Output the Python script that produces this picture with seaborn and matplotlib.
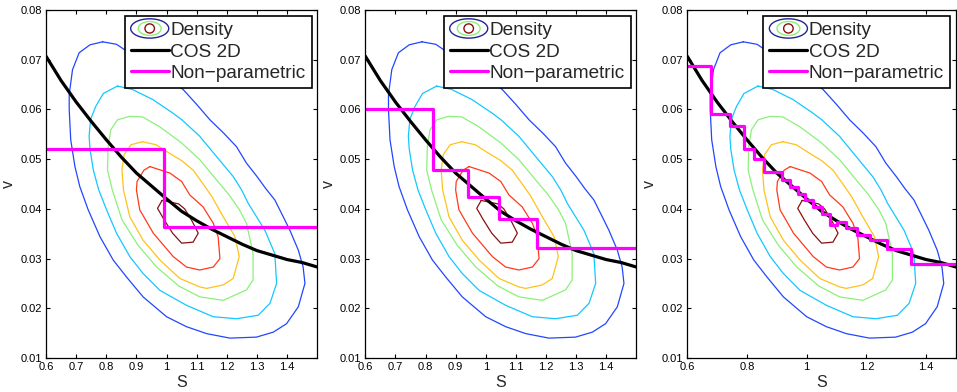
import matplotlib
matplotlib.use("Agg")
import matplotlib.pyplot as plt
import seaborn as sns
from matplotlib.legend_handler import HandlerBase
from matplotlib.patches import Ellipse
from matplotlib.lines import Line2D
from matplotlib.ticker import FuncFormatter

sns.set_style("ticks")
plt.rcParams["font.family"] = ["Liberation Sans", "DejaVu Sans"]

# ---------- Density contours as (S, v) ---------- #
contour_blue = [(0.788, 0.0736), (0.834, 0.0731), (0.856, 0.0722), (0.900, 0.0702), (0.960, 0.0680),
                (1.010, 0.0660), (1.055, 0.0640), (1.100, 0.0610), (1.144, 0.0579), (1.190, 0.0552),
                (1.232, 0.0525), (1.265, 0.0492), (1.300, 0.0465), (1.330, 0.0440), (1.359, 0.0418),
                (1.387, 0.0384), (1.409, 0.0357), (1.437, 0.0317), (1.453, 0.0283), (1.459, 0.0250),
                (1.437, 0.0203), (1.398, 0.0169), (1.354, 0.0152), (1.298, 0.0142), (1.210, 0.0140),
                (1.133, 0.0149), (1.066, 0.0163), (1.000, 0.0183), (0.922, 0.0223), (0.867, 0.0263),
                (0.823, 0.0297), (0.779, 0.0344), (0.740, 0.0398), (0.712, 0.0445), (0.696, 0.0485),
                (0.682, 0.0539), (0.677, 0.0600), (0.677, 0.0630), (0.688, 0.0680), (0.710, 0.0714),
                (0.746, 0.0730), (0.788, 0.0736)]
contour_cyan = [(0.837, 0.0647), (0.887, 0.0640), (0.954, 0.0620), (1.020, 0.0593), (1.051, 0.0579),
                (1.110, 0.0546), (1.166, 0.0505), (1.221, 0.0465), (1.249, 0.0438), (1.271, 0.0411),
                (1.326, 0.0357), (1.359, 0.0310), (1.365, 0.0250), (1.343, 0.0210), (1.304, 0.0186),
                (1.232, 0.0179), (1.155, 0.0183), (1.066, 0.0206), (0.978, 0.0236), (0.922, 0.0270),
                (0.878, 0.0304), (0.834, 0.0351), (0.801, 0.0398), (0.775, 0.0438), (0.757, 0.0478),
                (0.746, 0.0520), (0.743, 0.0546), (0.748, 0.0580), (0.765, 0.0606), (0.790, 0.0632),
                (0.837, 0.0647)]
contour_green = [(0.876, 0.0586), (0.920, 0.0585), (0.975, 0.0566), (1.020, 0.0546), (1.051, 0.0532),
                 (1.110, 0.0499), (1.166, 0.0458), (1.205, 0.0430), (1.240, 0.0400), (1.265, 0.0371),
                 (1.287, 0.0310), (1.287, 0.0257), (1.265, 0.0237), (1.188, 0.0216), (1.110, 0.0223),
                 (1.040, 0.0245), (0.967, 0.0283), (0.905, 0.0327), (0.852, 0.0378), (0.820, 0.0438),
                 (0.804, 0.0478), (0.806, 0.0525), (0.815, 0.0559), (0.837, 0.0579), (0.876, 0.0586)]
contour_yellow = [(0.920, 0.0535), (0.965, 0.0529), (1.009, 0.0512), (1.050, 0.0497), (1.088, 0.0478),
                  (1.127, 0.0445), (1.150, 0.0425), (1.188, 0.0384), (1.227, 0.0344), (1.241, 0.0304),
                  (1.221, 0.0260), (1.188, 0.0247), (1.133, 0.0240), (1.110, 0.0243), (1.044, 0.0260),
                  (0.978, 0.0297), (0.922, 0.0337), (0.878, 0.0384), (0.857, 0.0438), (0.852, 0.0478),
                  (0.859, 0.0509), (0.882, 0.0529), (0.920, 0.0535)]
contour_red = [(0.945, 0.0485), (1.011, 0.0472), (1.050, 0.0455), (1.077, 0.0428), (1.121, 0.0404),
               (1.155, 0.0371), (1.171, 0.0344), (1.177, 0.0300), (1.155, 0.0283), (1.110, 0.0277),
               (1.066, 0.0283), (1.022, 0.0304), (0.956, 0.0351), (0.911, 0.0398), (0.900, 0.0438),
               (0.902, 0.0455), (0.925, 0.0478), (0.945, 0.0485)]
contour_darkred = [(0.985, 0.0417), (1.040, 0.0410), (1.060, 0.0400), (1.085, 0.0375), (1.105, 0.0351),
                   (1.088, 0.0333), (1.050, 0.0331), (1.020, 0.0351), (0.992, 0.0378), (0.970, 0.0401),
                   (0.985, 0.0417)]

contours = [contour_blue, contour_cyan, contour_green, contour_yellow, contour_red, contour_darkred]
contour_colors = ["#2246ff", "#12c8ff", "#8cf07a", "#ffc21a", "#ff3a1a", "#8b1010"]

# ---------- COS 2D boundary ---------- #
cos_S = [0.60, 0.65, 0.70, 0.75, 0.80, 0.85, 0.90, 0.95, 1.00, 1.05,
         1.10, 1.15, 1.20, 1.25, 1.30, 1.35, 1.40, 1.45, 1.50]
cos_v = [0.0707, 0.0658, 0.0615, 0.0576, 0.0539, 0.0504, 0.0472, 0.0446, 0.0420, 0.0395,
         0.0376, 0.0359, 0.0344, 0.0329, 0.0316, 0.0307, 0.0298, 0.0292, 0.0283]

# ---------- Non-parametric step boundaries (break points, level per bucket) ---------- #
np1_breaks = [0.992]
np1_values = [0.0520, 0.0364]
np2_breaks = [0.826, 0.942, 1.045, 1.170]
np2_values = [0.0601, 0.0479, 0.0423, 0.0380, 0.0321]
np3_breaks = [0.679, 0.743, 0.790, 0.825, 0.857, 0.918, 0.944, 0.970, 0.996,
              1.022, 1.050, 1.078, 1.102, 1.132, 1.167, 1.212, 1.270, 1.350]
np3_values = [0.0688, 0.0590, 0.0566, 0.0521, 0.0501, 0.0475, 0.0458, 0.0444, 0.0430, 0.0418,
              0.0404, 0.0390, 0.0368, 0.0374, 0.0361, 0.0347, 0.0337, 0.0320, 0.0289]

s_min, s_max = 0.6, 1.5
v_min, v_max = 0.01, 0.08
x_ticks_fine = [0.6, 0.7, 0.8, 0.9, 1.0, 1.1, 1.2, 1.3, 1.4]
x_ticks_coarse = [0.6, 0.8, 1.0, 1.2, 1.4]
y_ticks = [0.01, 0.02, 0.03, 0.04, 0.05, 0.06, 0.07, 0.08]

panels = [(np1_breaks, np1_values, x_ticks_fine),
          (np2_breaks, np2_values, x_ticks_fine),
          (np3_breaks, np3_values, x_ticks_coarse)]


class DensityIcon(HandlerBase):
    # concentric ellipses like the matlab contour legend icon
    def create_artists(self, legend, orig_handle, xdescent, ydescent,
                       width, height, fontsize, trans):
        cx, cy = 0.5 * width - xdescent, 0.5 * height - ydescent
        arts = []
        for f, c in zip([1.0, 0.6, 0.25], ["#23239a", "#8cf07a", "#8b1010"]):
            arts.append(Ellipse((cx, cy), width * f, height * 1.45 * (0.3 + 0.7 * f),
                                fill=False, edgecolor=c, lw=1.0, transform=trans))
        return arts


W, H = 957, 392
fig = plt.figure(figsize=(W / 100, H / 100), dpi=100)
axes_px = [(46, 271.3), (365.3, 271), (687.2, 268.8)]
fmt = FuncFormatter(lambda x, _: f"{round(x, 4):g}")

for (left, width), (breaks, values, xticks) in zip(axes_px, panels):
    ax = fig.add_axes([left / W, 34 / H, width / W, 348 / H])

    for pts, col in zip(contours, contour_colors):
        sns.lineplot(x=[p[0] for p in pts], y=[p[1] for p in pts], sort=False,
                     estimator=None, color=col, lw=0.9, ax=ax)

    sns.lineplot(x=cos_S, y=cos_v, color="black", lw=2.3, ax=ax)

    step_x = [s_min] + breaks + [s_max]
    step_y = values + [values[-1]]
    sns.lineplot(x=step_x, y=step_y, sort=False, estimator=None, drawstyle="steps-post",
                 color="#ff00ff", lw=2.3, ax=ax)

    ax.set_xlim(s_min, s_max)
    ax.set_ylim(v_min, v_max)
    ax.set_xticks(xticks)
    ax.set_yticks(y_ticks)
    ax.xaxis.set_major_formatter(fmt)
    ax.yaxis.set_major_formatter(fmt)
    ax.tick_params(direction="in", top=True, right=True, length=3, width=0.8,
                   labelsize=8, pad=3, colors="black")
    for sp in ax.spines.values():
        sp.set_visible(True)
        sp.set_color("black")
        sp.set_linewidth(0.9)
    ax.set_xlabel("S", fontsize=11.5, labelpad=2)
    ax.set_ylabel("v", fontsize=11.5, labelpad=3)

    dens_h = Line2D([], [])
    cos_h = Line2D([], [], color="black", lw=2.3)
    np_h = Line2D([], [], color="#ff00ff", lw=2.3)
    leg = ax.legend([dens_h, cos_h, np_h], ["Density", "COS 2D", "Non\u2212parametric"],
                    handler_map={dens_h: DensityIcon()}, loc="upper right",
                    fontsize=13.7, frameon=True, fancybox=False, framealpha=1,
                    edgecolor="black", borderpad=0.32, labelspacing=0.22,
                    handlelength=2.0, handletextpad=0.08, borderaxespad=0.3)
    leg.get_frame().set_linewidth(1.2)

fig.savefig("out.png", dpi=100)
